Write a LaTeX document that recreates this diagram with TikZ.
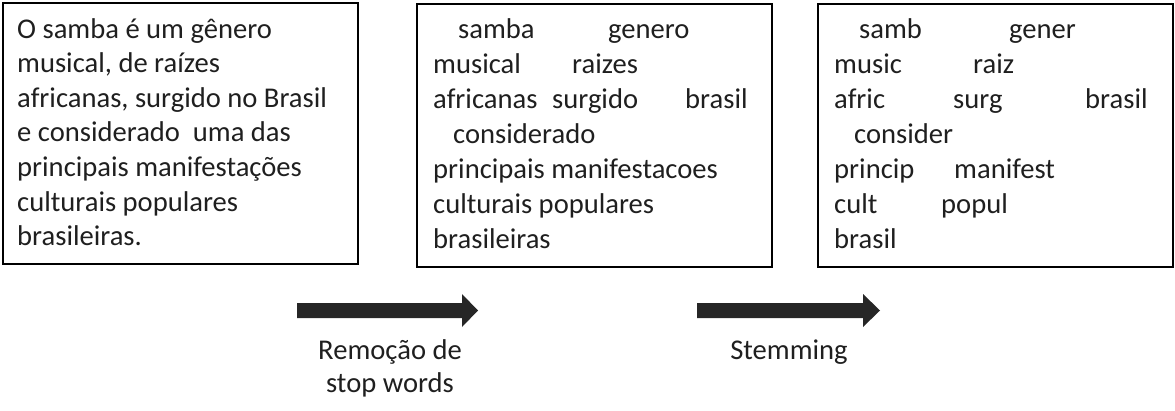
\documentclass[tikz,border=0pt]{standalone}
\usepackage{fontspec}
\setmainfont{Carlito}
\begin{document}
\begin{tikzpicture}[x=1pt,y=-1pt,
  box/.style={draw=black,line width=2pt,rectangle,inner sep=0pt,minimum width=355pt,minimum height=263pt},
  word/.style={anchor=base west,inner sep=0pt,font=\fontsize{28.6}{34.9}\selectfont,text=black!88},
  lbl/.style={anchor=base,inner sep=0pt,font=\fontsize{28.6}{34.9}\selectfont,text=black!88},
  blockarrow/.style={fill=black!85,draw=none}]
\useasboundingbox (0,0) rectangle (1175,410);
% boxes
\node[box,minimum height=261pt] (b1) at (180.5,133.5) {};
\node[box] (b2) at (594.5,135.5) {};
\node[box] (b3) at (995.5,135.5) {};
% box 1 text
\node[word] (l1) at (17,38) {O samba é um gênero};
\node[word] (l2) at (17,72.6) {musical, de raízes};
\node[word] (l3) at (17,107.2) {africanas, surgido no Brasil};
\node[word] (l4) at (17,141.8) {e considerado~ uma das};
\node[word] (l5) at (17,176.4) {principais manifestações};
\node[word] (l6) at (17,211) {culturais populares};
\node[word] (l7) at (17,245.6) {brasileiras.};
% box 2 words
\node[word] (w1) at (458,38) {samba};
\node[word] (w2) at (608,38) {genero};
\node[word] (w3) at (433,73) {musical};
\node[word] (w4) at (572,73) {raizes};
\node[word] (w5) at (433,108) {africanas};
\node[word] (w6) at (552,108) {surgido};
\node[word] (w7) at (685,108) {brasil};
\node[word] (w8) at (453,143) {considerado};
\node[word] (w9) at (433,178) {principais manifestacoes};
\node[word] (w10) at (433,213) {culturais populares};
\node[word] (w11) at (433,248) {brasileiras};
% box 3 words
\node[word] (s1) at (859,38) {samb};
\node[word] (s2) at (1009,38) {gener};
\node[word] (s3) at (834,73) {music};
\node[word] (s4) at (973,73) {raiz};
\node[word] (s5) at (834,108) {afric};
\node[word] (s6) at (953,108) {surg};
\node[word] (s7) at (1085,108) {brasil};
\node[word] (s8) at (854,143) {consider};
\node[word] (s9) at (834,178) {princip};
\node[word] (s10) at (954,178) {manifest};
\node[word] (s11) at (834,213) {cult};
\node[word] (s12) at (941,213) {popul};
\node[word] (s13) at (834,248) {brasil};
% arrows
\coordinate (a1s) at (297,310.5);
\coordinate (a1e) at (478,310.5);
\fill[blockarrow] (a1s) ++(0,-7.5) -- (462,303) -- (462,294) -- (a1e) -- (462,327) -- (462,318) -- (297,318) -- cycle;
\coordinate (a2s) at (697,310.5);
\coordinate (a2e) at (880,310.5);
\fill[blockarrow] (a2s) ++(0,-7.5) -- (863,303) -- (863,294) -- (a2e) -- (863,327) -- (863,318) -- (697,318) -- cycle;
% labels
\node[lbl] (r1) at (390,359) {Remoção de};
\node[lbl] (r2) at (390,392) {stop words};
\node[lbl] (st) at (789,359) {Stemming};
\end{tikzpicture}
\end{document}
